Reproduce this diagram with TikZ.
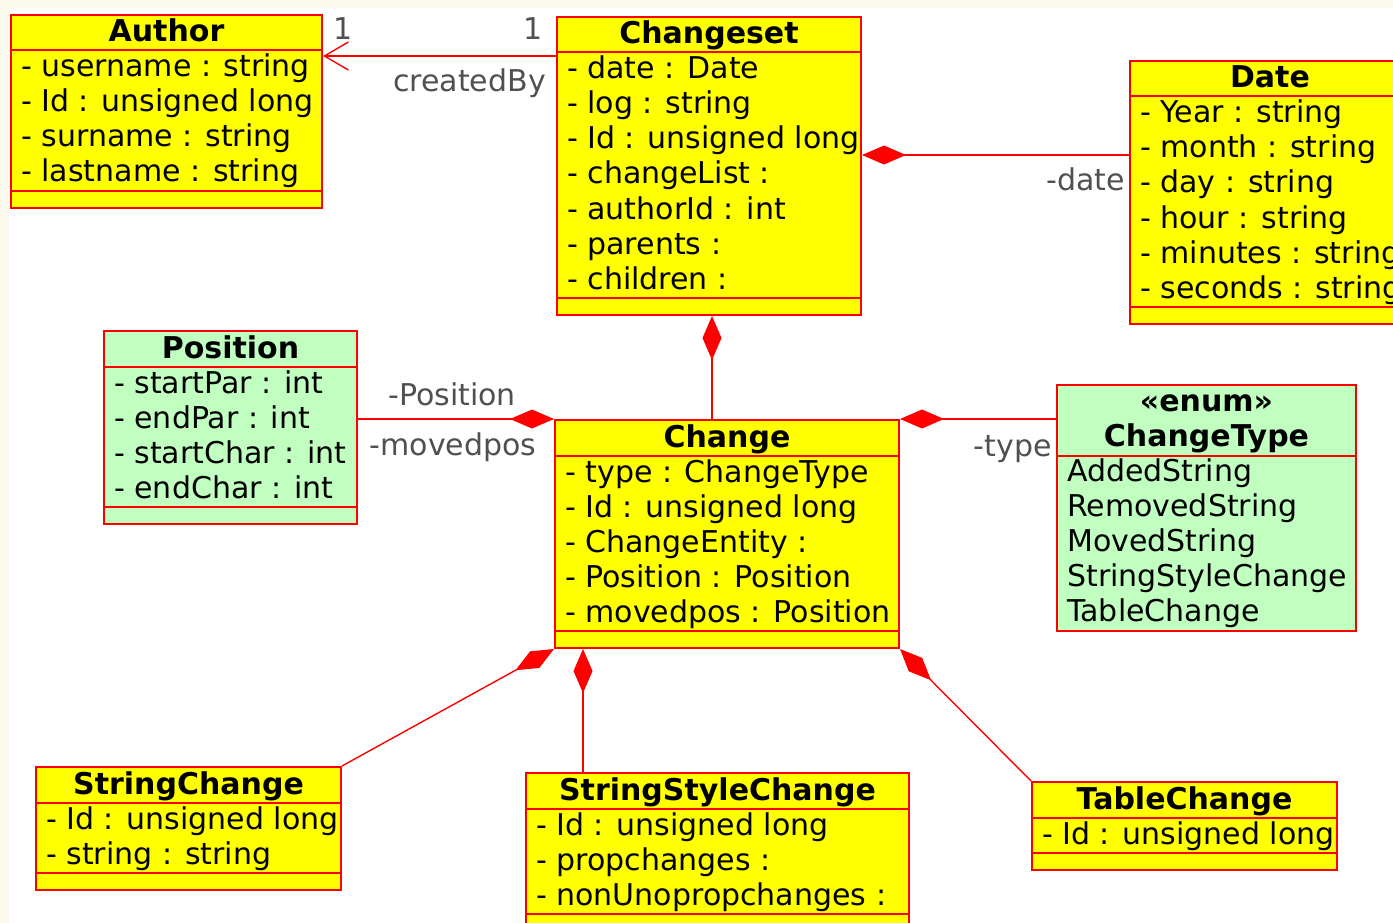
\documentclass[tikz,border=0pt]{standalone}
\usepackage{fontspec}
\setmainfont{DejaVu Sans}
\usetikzlibrary{arrows.meta,fit,calc}
\definecolor{umlyellow}{RGB}{255,255,0}
\definecolor{umlgreen}{RGB}{192,255,192}
\definecolor{umlred}{RGB}{255,0,0}
\definecolor{lblgray}{RGB}{80,80,80}
\definecolor{cream}{RGB}{252,250,236}
\tikzset{
  classbox/.style={draw=umlred, line width=2pt, inner sep=0pt},
  sepline/.style={draw=umlred, line width=2pt},
  attrtext/.style={anchor=base west, inner sep=0pt, font=\fontsize{30}{36}\selectfont},
  titletext/.style={anchor=base, inner sep=0pt, font=\fontsize{30}{36}\selectfont\bfseries},
  lbl/.style={inner sep=0pt, text=lblgray, font=\fontsize{30}{36}\selectfont},
  assoc/.style={draw=umlred, line width=1.4pt},
  comp/.style={assoc, -{Diamond[length=44pt,width=19pt]}},
  nav/.style={assoc, -{Straight Barb[length=24pt,width=28pt]}}
}
% #1 name, #2 left, #3 top, #4 right, #5 fill, #6 title, #7 rows
\newcommand\mkclass[7]{%
  \gdef\rowcount{0}%
  \foreach \r [count=\k] in {#7} {\xdef\rowcount{\k}}%
  \pgfmathsetmacro\sepa{#3+35.5}%
  \pgfmathsetmacro\sepb{#3+36+35*\rowcount}%
  \pgfmathsetmacro\boty{\sepb+17}%
  \pgfmathsetmacro\midx{(#2+#4)/2}%
  \node[classbox, fill=#5, fit={(#2,#3) (#4,\boty)}] (#1) {};
  \draw[sepline] (#2,\sepa) -- (#4,\sepa);
  \draw[sepline] (#2,\sepb) -- (#4,\sepb);
  \node[titletext] (#1-title) at (\midx,#3+27) {#6};
  \foreach \r [count=\k] in {#7} {
    \pgfmathsetmacro\yy{#3+62+35*(\k-1)}
    \node[attrtext] (#1-a\k) at (#2+10,\yy) {\r};
  }%
}
\begin{document}
\begin{tikzpicture}[x=1pt,y=-1pt]
\useasboundingbox (0,0) rectangle (1393,923);
\fill[white] (0,0) rectangle (1393,923);
\fill[cream] (0,0) rectangle (1393,8);
\fill[cream] (0,0) rectangle (9,923);
\clip (0,0) rectangle (1393,923);

\mkclass{author}{11}{15}{322}{umlyellow}{Author}{- username : string,- Id : unsigned long,- surname : string,- lastname : string}
\mkclass{changeset}{557}{17}{861}{umlyellow}{Changeset}{- date : Date,- log : string,- Id : unsigned long,- changeList :,- authorId : int,- parents :,- children :}
\mkclass{date}{1130}{61}{1410}{umlyellow}{Date}{- Year : string,- month : string,- day : string,- hour : string,- minutes : string,- seconds : string}
\mkclass{position}{104}{331}{357}{umlgreen}{Position}{- startPar : int,- endPar : int,- startChar : int,- endChar : int}
\mkclass{change}{555}{420}{899}{umlyellow}{Change}{- type : ChangeType,- Id : unsigned long,- ChangeEntity :,- Position : Position,- movedpos : Position}
\mkclass{stringchange}{36}{767}{341}{umlyellow}{StringChange}{- Id : unsigned long,- string : string}
\mkclass{ssc}{526}{773}{909}{umlyellow}{StringStyleChange}{- Id : unsigned long,- propchanges :,- nonUnopropchanges :}
\mkclass{tablechange}{1032}{782}{1337}{umlyellow}{TableChange}{- Id : unsigned long}

% enumeration ChangeType
\node[classbox, fill=umlgreen, fit={(1057,385) (1356,631)}] (changetype) {};
\draw[sepline] (1057,456) -- (1356,456);
\node[titletext] (ct-stereo) at (1206.5,411) {«enum»};
\node[titletext] (ct-title) at (1206.5,446) {ChangeType};
\foreach \v [count=\k] in {AddedString,RemovedString,MovedString,StringStyleChange,TableChange} {
  \pgfmathsetmacro\yy{481+35*(\k-1)}
  \node[attrtext] (ct-v\k) at (1067,\yy) {\v};
}

% connectors
\coordinate (cb) at ($(changeset.north west)+(0,40)$);
\draw[nav] (cb) -- (cb -| author.east);
\coordinate (cd) at ($(changeset.north east)+(0,139)$);
\draw[comp] (cd -| date.west) -- (cd);
\coordinate (cc) at ($(changeset.south)+(3,0)$);
\draw[comp] (cc |- change.north) -- (cc);
\draw[comp] (change.north west -| position.east) -- (change.north west);
\draw[comp] (change.north east -| changetype.west) -- (change.north east);
\draw[comp] (stringchange.north east) -- (change.south west);
\coordinate (sc) at ($(change.south west)+(29,0)$);
\draw[comp] (sc |- ssc.north) -- (sc);
\draw[comp] (tablechange.north west) -- (change.south east);

% labels
\node[lbl, anchor=base] (m1) at (343,40) {1};
\node[lbl, anchor=base] (m2) at (533,40) {1};
\node[lbl, anchor=base east] (l-created) at (546,92) {createdBy};
\node[lbl, anchor=base east] (l-date) at (1125,191) {-date};
\node[lbl, anchor=base] (l-pos) at (452,405) {-Position};
\node[lbl, anchor=base] (l-moved) at (453,455) {-movedpos};
\node[lbl, anchor=base east] (l-type) at (1052,456) {-type};
\end{tikzpicture}
\end{document}
